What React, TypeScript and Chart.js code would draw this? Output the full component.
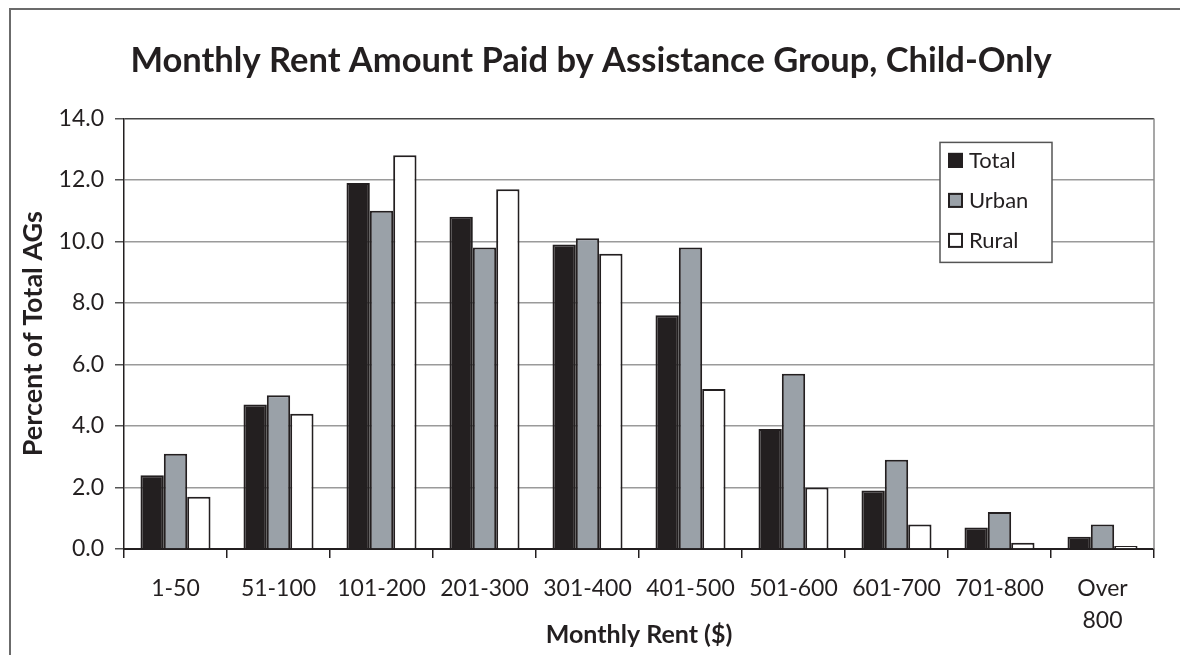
import React, { useEffect, useRef } from "react";
import { Chart, registerables } from "chart.js";

Chart.register(...registerables);

const chartTitle = "Monthly Rent Amount Paid by Assistance Group, Child-Only";
const xAxisTitle = "Monthly Rent ($)";
const yAxisTitle = "Percent of Total AGs";

const categories: (string | string[])[] = [
  "1-50",
  "51-100",
  "101-200",
  "201-300",
  "301-400",
  "401-500",
  "501-600",
  "601-700",
  "701-800",
  ["Over", "800"],
];

const seriesNames = ["Total", "Urban", "Rural"];
const totalValues = [2.4, 4.7, 11.9, 10.8, 9.9, 7.6, 3.9, 1.9, 0.7, 0.4];
const urbanValues = [3.1, 5.0, 11.0, 9.8, 10.1, 9.8, 5.7, 2.9, 1.2, 0.8];
const ruralValues = [1.7, 4.4, 12.8, 11.7, 9.6, 5.2, 2.0, 0.8, 0.2, 0.1];

const yMin = 0;
const yMax = 14;
const yStep = 2;

const FONT = "Lato, 'Open Sans', 'DejaVu Sans', sans-serif";
const INK = "#231f20";
const fills = ["#231f20", "#9aa1a8", "#ffffff"];

const frameLines = {
  id: "frameLines",
  beforeDatasetsDraw(chart: any) {
    const { ctx, chartArea } = chart;
    ctx.save();
    ctx.strokeStyle = "#8a8a8a";
    ctx.lineWidth = 1.5;
    ctx.beginPath();
    ctx.moveTo(chartArea.right, chartArea.top);
    ctx.lineTo(chartArea.right, chartArea.bottom);
    ctx.stroke();
    ctx.restore();
  },
};

const boxLegend = {
  id: "boxLegend",
  afterDraw(chart: any) {
    const { ctx, chartArea } = chart;
    const left = chartArea.right - 214;
    const top = chartArea.top + 24;
    const w = 112;
    const h = 120;
    ctx.save();
    ctx.fillStyle = "#ffffff";
    ctx.fillRect(left, top, w, h);
    ctx.strokeStyle = "#555555";
    ctx.lineWidth = 1.5;
    ctx.strokeRect(left, top, w, h);
    ctx.font = `22px ${FONT}`;
    ctx.textBaseline = "middle";
    ctx.textAlign = "left";
    chart.data.datasets.forEach((ds: any, i: number) => {
      const cy = top + 18 + i * 40;
      ctx.fillStyle = ds.backgroundColor;
      ctx.fillRect(left + 8, cy - 7.5, 15, 15);
      ctx.strokeStyle = INK;
      ctx.lineWidth = 2;
      ctx.strokeRect(left + 9, cy - 6.5, 13, 13);
      ctx.fillStyle = INK;
      ctx.fillText(ds.label, left + 29, cy + 1);
    });
    ctx.restore();
  },
};

export default function App() {
  const canvasRef = useRef<HTMLCanvasElement | null>(null);

  useEffect(() => {
    if (!canvasRef.current) return;
    const seriesValues = [totalValues, urbanValues, ruralValues];
    const chart = new Chart(canvasRef.current, {
      type: "bar",
      data: {
        labels: categories as any,
        datasets: seriesNames.map((name, i) => ({
          label: name,
          data: seriesValues[i],
          backgroundColor: fills[i],
          borderColor: INK,
          borderWidth: 2,
          barPercentage: 1,
          categoryPercentage: 0.68,
        })),
      },
      options: {
        responsive: false,
        animation: false,
        layout: { padding: { left: 28, right: 26, top: 0, bottom: 0 } },
        plugins: {
          legend: { display: false },
          tooltip: { enabled: false },
          title: {
            display: true,
            text: chartTitle,
            color: INK,
            font: { family: FONT, size: 34.5, weight: "bold", lineHeight: 1.2 },
            padding: { top: 40, bottom: 37 },
          },
        },
        scales: {
          x: {
            grid: {
              offset: true,
              drawOnChartArea: false,
              drawTicks: true,
              tickLength: 9,
              color: INK,
              lineWidth: 1.5,
            },
            border: { display: true, color: INK, width: 2 },
            ticks: {
              color: INK,
              font: { family: FONT, size: 23, lineHeight: 1.4 },
              padding: 14,
              maxRotation: 0,
              autoSkip: false,
            },
            title: {
              display: true,
              text: xAxisTitle,
              color: INK,
              font: { family: FONT, size: 25, weight: "bold", lineHeight: 1.2 },
              padding: { top: 0, bottom: 5 },
            },
            afterFit: (s: any) => {
              s.height = 106;
            },
          },
          y: {
            min: yMin,
            max: yMax,
            ticks: {
              stepSize: yStep,
              callback: (v: any) => Number(v).toFixed(1),
              color: INK,
              font: { family: FONT, size: 23 },
              padding: 11,
            },
            grid: {
              color: (c: any) => (c.tick && c.tick.value === yMax ? "#444444" : "#9a9a9a"),
              lineWidth: 1.5,
              tickLength: 9,
              tickColor: "#555555",
            },
            border: { display: true, color: INK, width: 1.5 },
            title: {
              display: true,
              text: yAxisTitle,
              color: INK,
              font: { family: FONT, size: 27, weight: "bold", lineHeight: 1.2 },
              padding: { top: -11, bottom: 0 },
            },
            afterFit: (s: any) => {
              s.width = 96;
            },
          },
        },
      } as any,
      plugins: [frameLines, boxLegend],
    });
    return () => chart.destroy();
  }, []);

  return (
    <div
      style={{
        position: "fixed",
        left: 0,
        top: 0,
        width: 1180,
        height: 655,
        overflow: "hidden",
        background: "#ffffff",
      }}
    >
      <div
        style={{
          position: "absolute",
          left: 9,
          top: 8,
          width: 1300,
          height: 800,
          borderLeft: "2px solid #6b6b6b",
          borderTop: "2px solid #6b6b6b",
        }}
      />
      <canvas
        ref={canvasRef}
        width={1180}
        height={655}
        style={{ position: "absolute", left: 0, top: 0, width: 1180, height: 655 }}
      />
    </div>
  );
}
